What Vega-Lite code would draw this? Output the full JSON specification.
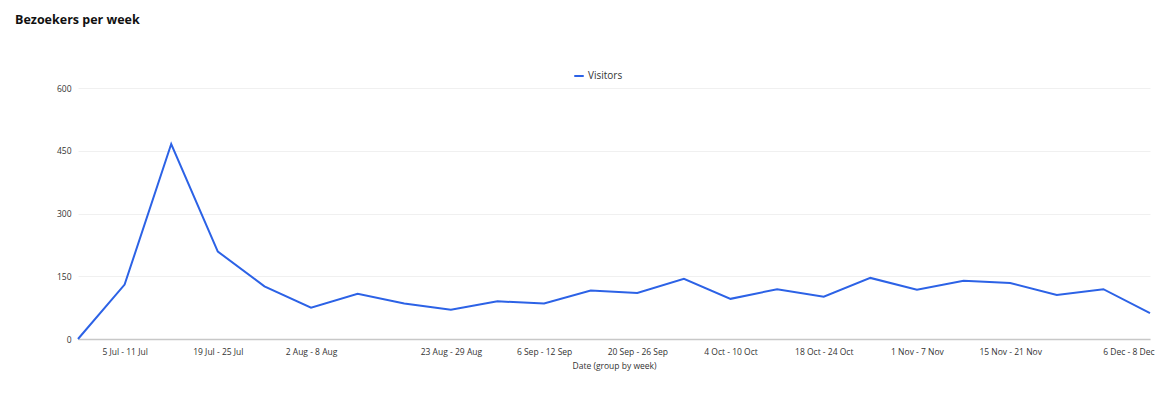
{
  "$schema": "https://vega.github.io/schema/vega-lite/v6.json",
  "width": 1072,
  "height": 251,
  "autosize": {"type": "none"},
  "padding": {"left": 78, "top": 88, "right": 23, "bottom": 72},
  "background": "white",
  "title": {
    "text": "Bezoekers per week",
    "anchor": "start",
    "frame": "group",
    "dx": -63,
    "dy": -40,
    "fontSize": 12.5,
    "fontWeight": "bold",
    "font": "Open Sans",
    "color": "#111111"
  },
  "data": {
    "values": [
      {"week": "28 Jun - 4 Jul", "visitors": 0},
      {"week": "5 Jul - 11 Jul", "visitors": 130},
      {"week": "12 Jul - 18 Jul", "visitors": 466},
      {"week": "19 Jul - 25 Jul", "visitors": 209},
      {"week": "26 Jul - 1 Aug", "visitors": 126},
      {"week": "2 Aug - 8 Aug", "visitors": 75},
      {"week": "9 Aug - 15 Aug", "visitors": 108},
      {"week": "16 Aug - 22 Aug", "visitors": 85},
      {"week": "23 Aug - 29 Aug", "visitors": 70},
      {"week": "30 Aug - 5 Sep", "visitors": 90},
      {"week": "6 Sep - 12 Sep", "visitors": 85},
      {"week": "13 Sep - 19 Sep", "visitors": 116},
      {"week": "20 Sep - 26 Sep", "visitors": 110},
      {"week": "27 Sep - 3 Oct", "visitors": 144},
      {"week": "4 Oct - 10 Oct", "visitors": 96},
      {"week": "11 Oct - 17 Oct", "visitors": 119},
      {"week": "18 Oct - 24 Oct", "visitors": 101},
      {"week": "25 Oct - 31 Oct", "visitors": 146},
      {"week": "1 Nov - 7 Nov", "visitors": 118},
      {"week": "8 Nov - 14 Nov", "visitors": 139},
      {"week": "15 Nov - 21 Nov", "visitors": 134},
      {"week": "22 Nov - 28 Nov", "visitors": 105},
      {"week": "29 Nov - 5 Dec", "visitors": 119},
      {"week": "6 Dec - 8 Dec", "visitors": 62}
    ]
  },
  "mark": {"type": "line", "strokeWidth": 2, "strokeJoin": "miter"},
  "encoding": {
    "x": {
      "field": "week",
      "type": "ordinal",
      "sort": null,
      "scale": {"type": "point", "padding": 0},
      "title": "Date (group by week)",
      "axis": {
        "values": ["5 Jul - 11 Jul", "19 Jul - 25 Jul", "2 Aug - 8 Aug", "23 Aug - 29 Aug", "6 Sep - 12 Sep", "20 Sep - 26 Sep", "4 Oct - 10 Oct", "18 Oct - 24 Oct", "1 Nov - 7 Nov", "15 Nov - 21 Nov", "6 Dec - 8 Dec"],
        "labelAngle": 0,
        "labelOverlap": false,
        "labelFontSize": 8.5,
        "labelFont": "Open Sans",
        "labelColor": "#333333",
        "labelPadding": 8,
        "labelAlign": {"condition": {"test": "datum.value === '6 Dec - 8 Dec'", "value": "right"}, "value": "center"},
        "labelOffset": {"condition": {"test": "datum.value === '6 Dec - 8 Dec'", "value": 4}, "value": 0},
        "ticks": false,
        "domainColor": "#c8c8c8",
        "domainWidth": 1.5,
        "grid": false,
        "titleFontSize": 8.5,
        "titleFont": "Open Sans",
        "titleFontWeight": "normal",
        "titleColor": "#333333",
        "titlePadding": 6
      }
    },
    "y": {
      "field": "visitors",
      "type": "quantitative",
      "title": null,
      "scale": {"domain": [0, 600]},
      "axis": {
        "values": [0, 150, 300, 450, 600],
        "domain": false,
        "ticks": false,
        "labelFontSize": 8.5,
        "labelFont": "Open Sans",
        "labelColor": "#333333",
        "labelPadding": 7,
        "gridColor": "#f0f0f0",
        "gridWidth": 1
      }
    },
    "color": {
      "datum": "Visitors",
      "type": "nominal",
      "scale": {"range": ["#2c62e6"]},
      "legend": {
        "title": null,
        "orient": "none",
        "legendX": 495,
        "legendY": -18,
        "symbolType": "stroke",
        "symbolSize": 90,
        "symbolStrokeWidth": 2,
        "labelFontSize": 10,
        "labelFont": "Open Sans",
        "labelColor": "#333333",
        "labelOffset": 3
      }
    }
  },
  "config": {"view": {"stroke": null}}
}
